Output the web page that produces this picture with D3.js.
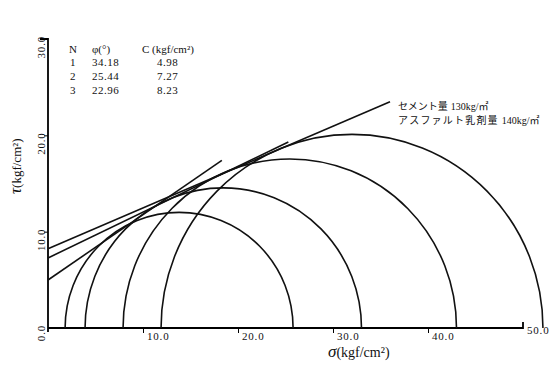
<!DOCTYPE html>
<html>
<head>
<meta charset="utf-8">
<script src="https://cdn.jsdelivr.net/npm/d3@7"></script>
<style>
  body { margin: 0; background: #fff; }
  text { font-family: "Liberation Serif", "DejaVu Serif", "Noto Sans CJK JP", serif; fill: #111; }
  .jp { font-family: "Noto Sans CJK JP", sans-serif; }
</style>
</head>
<body>
<div id="mohr"></div>
<script>
// fitted failure envelopes
const runNo = [1, 2, 3];
const phiDeg = [34.18, 25.44, 22.96];
const cohesion = [4.98, 7.27, 8.23];
const lineEndSigma = [18.3, 25.3, 36.0];

// Mohr circles (sigma3, sigma1)
const sigma3 = [1.8, 3.9, 7.9, 11.9];
const sigma1 = [25.8, 33.0, 43.0, 52.1];

const xTicks = [10, 20, 30, 40, 50];
const yTicks = [0, 10, 20, 30];
const noteNames = ["セメント量", "アスファルト乳剤量"];
const noteAmounts = ["130kg/㎡", "140kg/㎡"];

const W = 553, H = 366;
const svg = d3.select("#mohr").append("svg")
  .attr("width", W).attr("height", H);

const x = d3.scaleLinear().domain([0, 50]).range([48, 523]);
const y = d3.scaleLinear().domain([0, 30]).range([328, 39]);

// axes
const xAxis = svg.append("g")
  .attr("transform", `translate(0, ${y(0)})`)
  .call(d3.axisBottom(x).tickValues(xTicks.slice(0, 4)).tickSize(5).tickFormat(""));
xAxis.select(".domain").attr("d", `M${x(0)},0H${x(50)}V-6`).attr("stroke-width", 1.8);
xAxis.selectAll(".tick line").attr("stroke-width", 1);

const yAxis = svg.append("g")
  .attr("transform", `translate(${x(0)}, 0)`)
  .call(d3.axisLeft(y).tickValues([10, 20]).tickSize(4).tickFormat(""));
yAxis.select(".domain").attr("d", `M-8,${y(30)}H0V${y(0) + 4}`).attr("stroke-width", 1.8);
yAxis.selectAll(".tick line").attr("stroke-width", 1);

// tick labels
svg.selectAll(".xlab")
  .data(xTicks)
  .join("text")
    .attr("x", d => x(d) + 4)
    .attr("y", d => d === 50 ? y(0) + 6 : y(0) + 12)
    .style("font-size", "11px")
    .style("letter-spacing", "0.8px")
    .text(d => d.toFixed(1));

svg.selectAll(".ylab")
  .data(yTicks)
  .join("text")
    .attr("transform", d => `translate(${x(0) - 3}, ${y(d) - 3}) rotate(-90)`)
    .style("text-anchor", "end")
    .style("font-size", "11px")
    .style("letter-spacing", "0.8px")
    .text(d => d.toFixed(1));

// axis titles
svg.append("text")
  .attr("x", 328).attr("y", 357)
  .style("font-size", "14px")
  .html('<tspan style="font-style:italic;font-size:17px">σ</tspan>(kgf/cm²)');

svg.append("text")
  .attr("transform", "translate(21, 194) rotate(-90)")
  .style("font-size", "13px")
  .html('<tspan style="font-style:italic;font-size:17px">τ</tspan>(kgf/cm²)');

// Mohr semicircles
const circles = sigma3.map((s, i) => ({s3: s, s1: sigma1[i]}));
svg.selectAll(".circle")
  .data(circles)
  .join("path")
    .attr("d", d => {
      const r = (d.s1 - d.s3) / 2;
      const rx = (x(d.s1) - x(d.s3)) / 2;
      const ry = y(0) - y(r);
      return `M${x(d.s3)},${y(0)}A${rx},${ry} 0 0 1 ${x(d.s1)},${y(0)}`;
    })
    .attr("fill", "none")
    .attr("stroke", "#111")
    .attr("stroke-width", 1.6);

// envelopes  tau = c + sigma tan(phi)
const envelope = d3.line().x(d => x(d[0])).y(d => y(d[1]));
const envData = runNo.map((n, i) => {
  const t = Math.tan(phiDeg[i] * Math.PI / 180);
  return [[0, cohesion[i]], [lineEndSigma[i], cohesion[i] + lineEndSigma[i] * t]];
});
svg.selectAll(".env")
  .data(envData)
  .join("path")
    .attr("d", d => envelope(d))
    .attr("fill", "none")
    .attr("stroke", "#111")
    .attr("stroke-width", 1.6);

// parameter table
const tbl = svg.append("g").style("font-size", "11px");
tbl.append("text").attr("x", 69).attr("y", 53).text("N");
tbl.append("text").attr("x", 92).attr("y", 53).text("φ(°)");
tbl.append("text").attr("x", 142).attr("y", 53).text("C (kgf/cm²)");
runNo.forEach((n, i) => {
  const yy = 66 + i * 14;
  tbl.append("text").attr("x", 70).attr("y", yy).text(n);
  tbl.append("text").attr("x", 92).attr("y", yy).style("letter-spacing", "0.5px").text(phiDeg[i].toFixed(2));
  tbl.append("text").attr("x", 157).attr("y", yy).style("letter-spacing", "0.5px").text(cohesion[i].toFixed(2));
});

// note, two lines
noteNames.forEach((nm, i) => {
  const t = svg.append("text")
    .attr("x", 398)
    .attr("y", 110 + i * 13.5)
    .style("font-size", "10px");
  t.append("tspan")
    .attr("class", "jp")
    .style("letter-spacing", i === 0 ? "0px" : "1.2px")
    .text(nm);
  t.append("tspan")
    .attr("dx", 3)
    .text(noteAmounts[i]);
});
</script>
</body>
</html>
